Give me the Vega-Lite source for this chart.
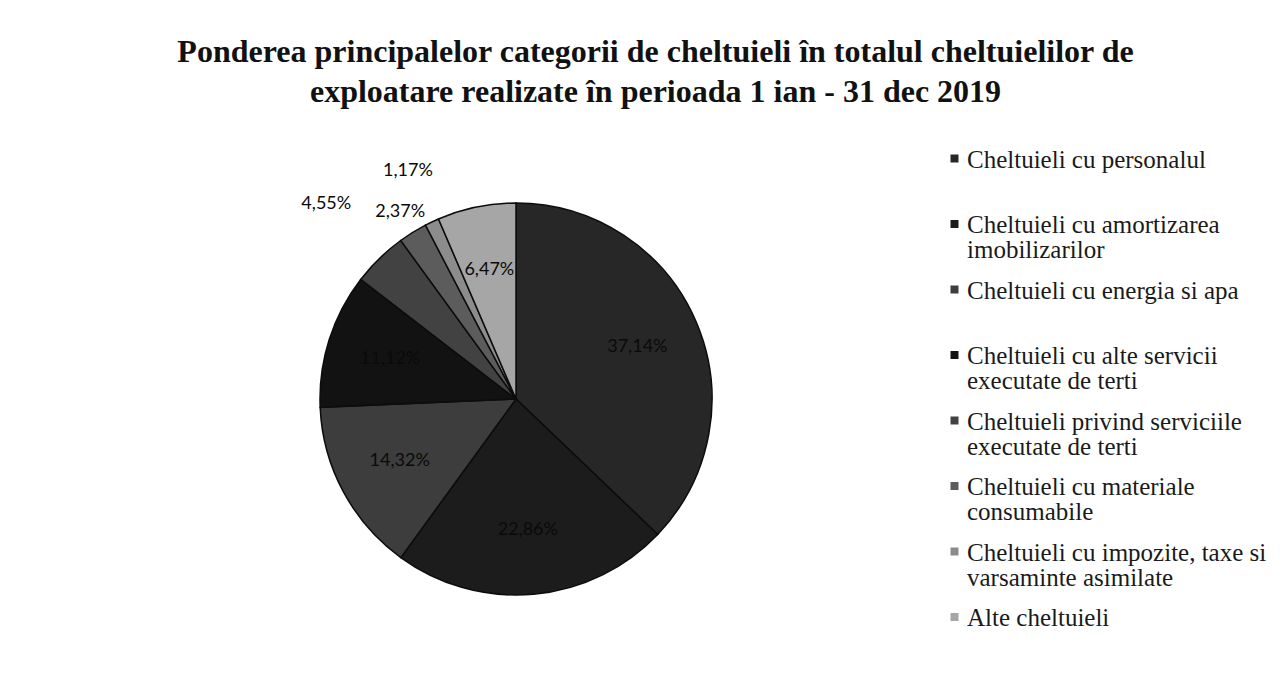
{
  "$schema": "https://vega.github.io/schema/vega-lite/v6.json",
  "autosize": {"type": "fit", "contains": "padding"},
  "width": 1287,
  "height": 675,
  "padding": {"left": 100, "top": 36, "right": 20, "bottom": 12},
  "background": "white",
  "title": {
    "text": ["Ponderea principalelor categorii de cheltuieli în totalul cheltuielilor de", "exploatare realizate în perioada 1 ian -  31 dec 2019"],
    "font": "Liberation Serif",
    "fontSize": 32,
    "fontWeight": "bold",
    "lineHeight": 40,
    "color": "#111111",
    "anchor": "middle",
    "frame": "bounds",
    "dx": -28,
    "offset": 26
  },
  "data": {
    "values": [
      {"categorie": "Cheltuieli cu personalul|", "ordine": 1, "pondere": 37.14, "eticheta": "37,14%"},
      {"categorie": "Cheltuieli cu amortizarea|imobilizarilor", "ordine": 2, "pondere": 22.86, "eticheta": "22,86%"},
      {"categorie": "Cheltuieli cu energia si apa|", "ordine": 3, "pondere": 14.32, "eticheta": "14,32%"},
      {"categorie": "Cheltuieli cu alte servicii|executate de terti", "ordine": 4, "pondere": 11.12, "eticheta": "11,12%"},
      {"categorie": "Cheltuieli privind serviciile|executate de terti", "ordine": 5, "pondere": 4.55, "eticheta": "4,55%"},
      {"categorie": "Cheltuieli cu materiale|consumabile", "ordine": 6, "pondere": 2.37, "eticheta": "2,37%"},
      {"categorie": "Cheltuieli cu impozite, taxe si|varsaminte asimilate", "ordine": 7, "pondere": 1.17, "eticheta": "1,17%"},
      {"categorie": "Alte cheltuieli|", "ordine": 8, "pondere": 6.47, "eticheta": "6,47%"}
    ]
  },
  "encoding": {
    "theta": {"field": "pondere", "type": "quantitative", "stack": true},
    "order": {"field": "ordine", "type": "quantitative"},
    "color": {
      "field": "categorie",
      "type": "nominal",
      "sort": {"field": "ordine"},
      "scale": {
        "domain": [
          "Cheltuieli cu personalul|",
          "Cheltuieli cu amortizarea|imobilizarilor",
          "Cheltuieli cu energia si apa|",
          "Cheltuieli cu alte servicii|executate de terti",
          "Cheltuieli privind serviciile|executate de terti",
          "Cheltuieli cu materiale|consumabile",
          "Cheltuieli cu impozite, taxe si|varsaminte asimilate",
          "Alte cheltuieli|"
        ],
        "range": ["#272727", "#1c1c1c", "#3d3d3d", "#121212", "#424242", "#5c5c5c", "#8c8c8c", "#a6a6a6"]
      },
      "legend": {
        "title": null,
        "orient": "right",
        "offset": 10,
        "labelFont": "Liberation Serif",
        "labelFontSize": 25,
        "labelColor": "#1a1a1a",
        "labelLimit": 400,
        "labelExpr": "split(datum.label, '|')",
        "labelBaseline": "top",
        "labelOffset": 0,
        "symbolType": "M -0.4 0.7 L 0.4 0.7 L 0.4 1.5 L -0.4 1.5 Z",
        "symbolSize": 400,
        "symbolStrokeWidth": 0,
        "rowPadding": 2.5
      }
    }
  },
  "layer": [
    {
      "mark": {"type": "arc", "outerRadius": 196, "stroke": "#0c0c0c", "strokeWidth": 1.5}
    },
    {
      "mark": {
        "type": "text",
        "font": "Lato",
        "fontSize": 18,
        "radius": {"expr": "datum.ordine == 5 ? 272 : datum.ordine == 6 ? 220 : datum.ordine == 7 ? 252 : 132"}
      },
      "encoding": {
        "text": {"field": "eticheta", "type": "nominal"},
        "color": {"value": "#0a0a0a"}
      }
    }
  ],
  "config": {
    "view": {"stroke": null},
    "style": {"guide-label": {"lineHeight": 25}}
  }
}
